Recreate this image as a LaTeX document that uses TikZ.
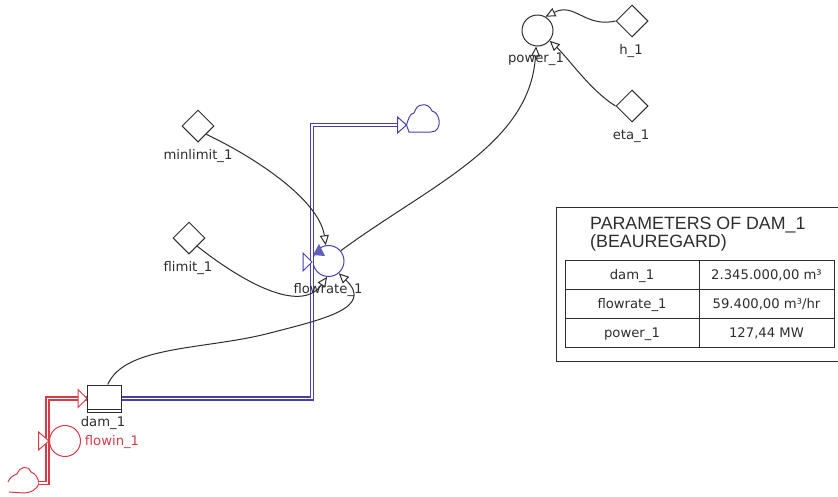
\documentclass[tikz,border=0pt]{standalone}
\usepackage{fontspec}
\setmainfont{DejaVu Sans}
\newfontfamily\titlefont{Liberation Sans}
\usetikzlibrary{arrows.meta,shapes.geometric}
\definecolor{flowblue}{RGB}{72,64,176}
\definecolor{flowred}{RGB}{214,60,72}
\definecolor{inkgray}{RGB}{45,45,45}
\tikzset{
  lbl/.style={text=inkgray,font=\fontsize{13.2}{15}\selectfont,inner sep=0pt},
  const/.style={diamond,draw=inkgray,fill=white,line width=1pt,inner sep=0pt,minimum width=32pt,minimum height=32pt},
  conv/.style={circle,draw=inkgray,line width=1pt,inner sep=0pt,minimum size=31pt},
  link/.style={inkgray,line width=1pt,-{Triangle[open,length=10pt,width=9pt,fill=white]}},
  cellbox/.style={draw=inkgray,line width=1pt,text=inkgray,font=\fontsize{13.2}{15}\selectfont,inner sep=0pt,minimum height=29pt,text height=10.5pt,text depth=0pt},
  pipe/.style={draw=#1,double=white,double distance=1.5pt,line width=1.3pt},
  valve/.style={draw=#1,fill=white,line width=1pt}
}
\begin{document}
\begin{tikzpicture}[x=1pt,y=-1pt]
  \useasboundingbox (0,0) rectangle (838,496);
  % stocks and converters
  \node[draw=inkgray,line width=1pt,minimum width=34pt,minimum height=27pt,inner sep=0pt] (dam) at (104,398.5) {};
  \draw[inkgray,line width=1pt] (dam.south west) ++(0,-3) -- ++(34,0);
  \node[conv,draw=flowblue] (flowrate) at (328.5,261) {};
  \node[conv,draw=flowred] (flowin) at (65,441) {};
  \node[conv] (power) at (537.5,30.5) {};
  \node[const] (minlimit) at (198,126) {};
  \node[const] (flimit) at (189,238) {};
  \node[const] (h) at (632,21) {};
  \node[const] (eta) at (632,106) {};
  % clouds
  \coordinate (sinkin) at (397.5,125);
  \coordinate (sinkout) at (406.5,125);
  \coordinate (flowcorner) at (312,125);
  \draw[flowblue,line width=1pt] (sinkout) -- (409,132) -- (431,132)
    .. controls (437,132) and (440,127) .. (439,120)
    .. controls (438,115) and (436,112) .. (432,111)
    .. controls (430,106) and (426,104) .. (422,105)
    .. controls (418,105) and (416,108) .. (414,113)
    .. controls (410,113) and (408,120) .. (sinkout);
  \coordinate (sourceout) at (39,483);
  \coordinate (redcorner) at (47.5,398.5);
  \draw[flowred,line width=1pt] (8,482) .. controls (10,477) and (14,475) .. (17,474)
    .. controls (20,466) and (28,465) .. (31,472)
    .. controls (36,474) and (38,478) .. (sourceout)
    .. controls (37,490) and (30,493) .. (24,493) -- (9,492);
  % flows
  \draw[pipe=flowred] (sourceout) -| (redcorner) -- (dam.west);
  \draw[pipe=flowblue] (dam.east) -| (flowcorner) -- (sinkin);
  \draw[valve=flowred] (78,389.5) -- (87,398.5) -- (78,407.5) -- cycle;
  \draw[valve=flowred] (38.5,432) -- (49,441) -- (38.5,450) -- cycle;
  \draw[valve=flowblue] (sinkin) ++(0,-8) -- ++(9,8) -- ++(-9,8) -- cycle;
  \draw[valve=flowblue] (303,253) -- (312,262) -- (303,271) -- cycle;
  \fill[flowblue!85] (313,255) -- (319,244) -- (325,256) -- cycle;
  % links
  \draw[link] (minlimit.south east) .. controls (270,165) and (320,205) .. (flowrate.100);
  \draw[link] (flimit.south east) .. controls (240,280) and (300,315) .. (flowrate.-95);
  \draw[link] (dam.75) .. controls (125,345) and (205,350) .. (270,333)
    .. controls (322,319.5) and (375,308) .. (flowrate.-50);
  \draw[link] (flowrate.40) .. controls (430,185) and (530,145) .. (power.-95);
  \draw[link] (h.west) .. controls (585,28) and (575,2) .. (power.60);
  \draw[link] (eta.west) .. controls (590,90) and (570,60) .. (power.-40);
  % labels
  \node[lbl] (minlimitlabel) at (198,156.5) {minlimit\_1};
  \node[lbl] (flimitlabel) at (188,268.5) {flimit\_1};
  \node[lbl] (flowratelabel) at (328,290.5) {flowrate\_1};
  \node[lbl] (powerlabel) at (536,59.5) {power\_1};
  \node[lbl] (hlabel) at (631,51.5) {h\_1};
  \node[lbl] (etalabel) at (631,136.5) {eta\_1};
  \node[lbl] (damlabel) at (103,423.5) {dam\_1};
  \node[lbl,text=flowred] (flowinlabel) at (112,442.5) {flowin\_1};
  % parameter table
  \draw[inkgray,line width=1pt] (838,207) -- (556,207) -- (556,361) -- (838,361);
  \node[anchor=west,text=inkgray,inner sep=0pt,font=\titlefont\fontsize{17.8}{19}\selectfont] (title) at (590,225) {PARAMETERS OF DAM\_1};
  \node[anchor=west,text=inkgray,inner sep=0pt,font=\titlefont\fontsize{17.8}{19}\selectfont] (subtitle) at (590,243) {(BEAUREGARD)};
  \node[cellbox,minimum width=134pt] (damcell) at (632,274.5) {dam\_1};
  \node[cellbox,minimum width=135pt] (damvalue) at (766.5,274.5) {2.345.000,00 m³};
  \node[cellbox,minimum width=134pt] (flowratecell) at (632,303.5) {flowrate\_1};
  \node[cellbox,minimum width=135pt] (flowratevalue) at (766.5,303.5) {59.400,00 m³/hr};
  \node[cellbox,minimum width=134pt] (powercell) at (632,332.5) {power\_1};
  \node[cellbox,minimum width=135pt] (powervalue) at (766.5,332.5) {127,44 MW};
\end{tikzpicture}
\end{document}
